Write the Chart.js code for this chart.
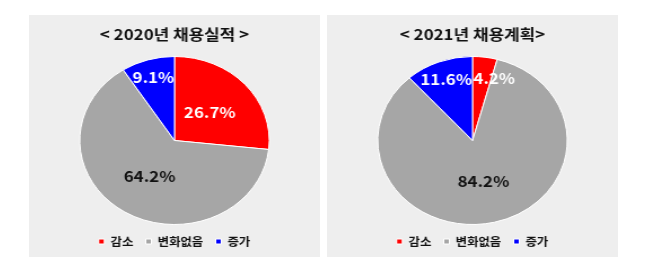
<!DOCTYPE html>
<html>
<head>
<meta charset="utf-8">
<script src="https://cdn.jsdelivr.net/npm/chart.js@4.4.1/dist/chart.umd.min.js"></script>
<style>
  body { margin: 0; background: #fff; width: 654px; height: 268px; position: relative; overflow: hidden; }
  .panel { position: absolute; top: 15px; width: 291px; height: 242px; background: #eeeeee; }
  .panel canvas { width: 291px; height: 242px; }
</style>
</head>
<body>
<div class="panel" style="left:29px"><canvas id="pie2020" width="258" height="242" style="width:291px;height:242px"></canvas></div>
<div class="panel" style="left:327px"><canvas id="pie2021" width="258" height="242" style="width:291px;height:242px"></canvas></div>
<script>
const categories = ['감소', '변화없음', '증가'];
const values2020 = [26.7, 64.2, 9.1];
const values2021 = [4.2, 84.2, 11.6];
const titles = ['< 2020년 채용실적 >', '< 2021년 채용계획>'];

const sliceColors = ['#ff0000', '#a6a6a6', '#0000ff'];
const labelColors = ['#ffffff', '#111111', '#ffffff'];
const FONT = '"Noto Sans CJK KR", "Noto Sans", sans-serif';

// label placement: fraction of radius, plus small x nudge (Excel moved the 4.2% label)
const labelPos2020 = [{ f: 0.5, dx: 0 }, { f: 0.5, dx: 0 }, { f: 0.79, dx: 0 }];
const labelPos2021 = [{ f: 0.75, dx: 11 }, { f: 0.5, dx: 0 }, { f: 0.78, dx: 0 }];

const pctLabels = {
  id: 'pctLabels',
  afterDatasetsDraw(chart, args, opts) {
    const ctx = chart.ctx;
    const meta = chart.getDatasetMeta(0);
    const data = chart.data.datasets[0].data;
    ctx.save();
    ctx.font = 'bold 15px ' + FONT;
    ctx.textAlign = 'center';
    ctx.textBaseline = 'middle';
    meta.data.forEach((arc, i) => {
      const p = arc.getProps(['x', 'y', 'startAngle', 'endAngle', 'outerRadius'], true);
      const mid = (p.startAngle + p.endAngle) / 2;
      const pos = opts.pos[i];
      const x = p.x + Math.cos(mid) * p.outerRadius * pos.f + pos.dx;
      const y = p.y + Math.sin(mid) * p.outerRadius * pos.f;
      ctx.fillStyle = labelColors[i];
      ctx.fillText(data[i].toFixed(1) + '%', x, y);
    });
    ctx.restore();
  }
};

function makePie(id, values, title, pos) {
  return new Chart(document.getElementById(id), {
    type: 'pie',
    data: {
      labels: categories,
      datasets: [{
        data: values,
        backgroundColor: sliceColors,
        borderColor: '#ffffff',
        borderWidth: 1
      }]
    },
    options: {
      responsive: false,
      devicePixelRatio: 1,
      animation: false,
      layout: { padding: { top: 0, bottom: 0, left: 0, right: 0 } },
      plugins: {
        title: {
          display: true,
          text: title,
          color: '#111111',
          font: { family: FONT, size: 15, weight: 'bold' },
          padding: { top: 10, bottom: 13 }
        },
        legend: {
          position: 'bottom',
          labels: {
            color: '#111111',
            font: { family: FONT, size: 11, weight: 'bold' },
            boxWidth: 5,
            boxHeight: 5,
            padding: 11
          }
        },
        tooltip: { enabled: false },
        pctLabels: { pos: pos }
      }
    },
    plugins: [pctLabels]
  });
}

makePie('pie2020', values2020, titles[0], labelPos2020);
makePie('pie2021', values2021, titles[1], labelPos2021);
</script>
</body>
</html>
